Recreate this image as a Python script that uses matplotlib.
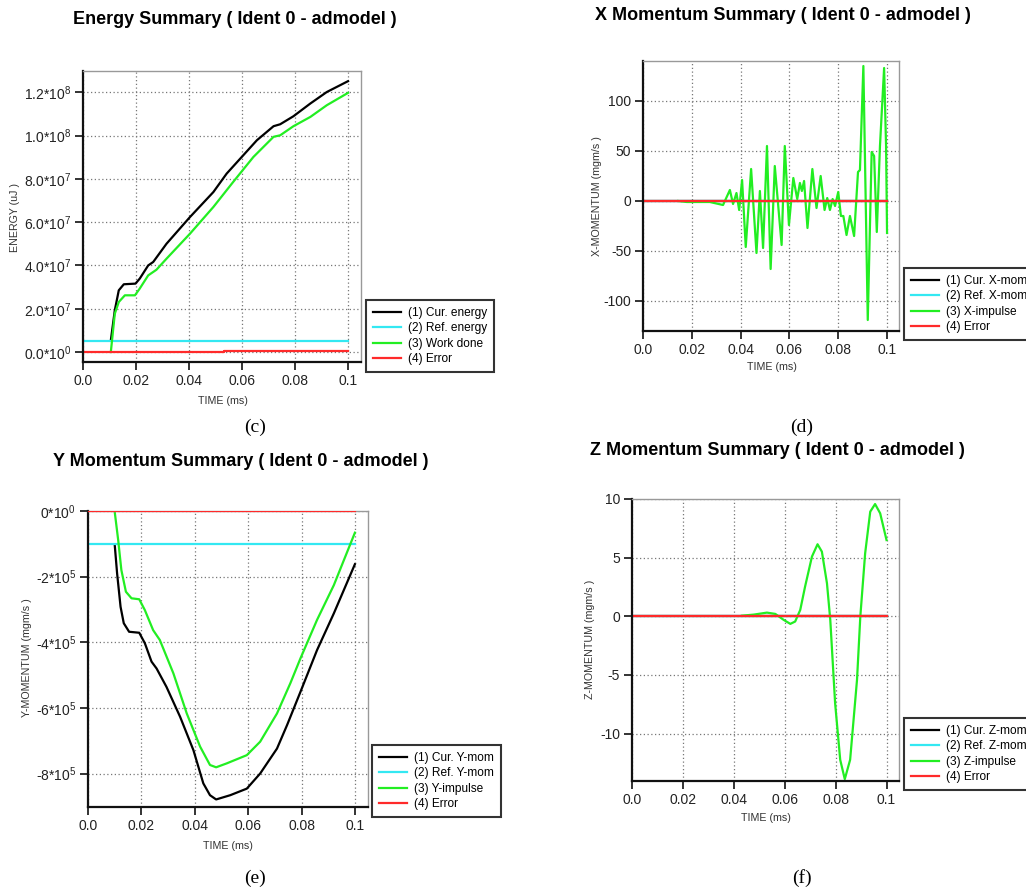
import numpy as np
import matplotlib
matplotlib.use('Agg')
import matplotlib.pyplot as plt

plt.rcParams['font.family'] = ['Liberation Sans', 'DejaVu Sans']
plt.rcParams['mathtext.fontset'] = 'custom'
plt.rcParams['mathtext.rm'] = 'Liberation Sans'
plt.rcParams['mathtext.it'] = 'Liberation Sans:italic'
plt.rcParams['mathtext.bf'] = 'Liberation Sans:bold'

# time axis ticks (shared)
time_ticks = [0.0, 0.02, 0.04, 0.06, 0.08, 0.1]
time_ticklabels = ['0.0', '0.02', '0.04', '0.06', '0.08', '0.1']

# (c) energy summary
energy_t_cur = [0.0105, 0.012, 0.0135, 0.0154, 0.0198, 0.0214, 0.0246, 0.0265, 0.0315, 0.0404,
                0.0492, 0.0542, 0.0599, 0.0656, 0.0719, 0.0744, 0.0794, 0.0858, 0.092, 0.1]
energy_cur = [0.054e8, 0.193e8, 0.285e8, 0.313e8, 0.316e8, 0.339e8, 0.40e8, 0.416e8, 0.50e8, 0.624e8,
              0.739e8, 0.824e8, 0.901e8, 0.978e8, 1.043e8, 1.052e8, 1.089e8, 1.148e8, 1.201e8, 1.251e8]
energy_t_work = [0.0105, 0.012, 0.0135, 0.0158, 0.0196, 0.0214, 0.0246, 0.0277, 0.0315, 0.0404,
                 0.0492, 0.0567, 0.0643, 0.0719, 0.0744, 0.0794, 0.0858, 0.092, 0.1]
energy_work = [0.0, 0.177e8, 0.231e8, 0.262e8, 0.262e8, 0.293e8, 0.354e8, 0.380e8, 0.431e8, 0.547e8,
               0.670e8, 0.786e8, 0.901e8, 0.994e8, 1.001e8, 1.043e8, 1.086e8, 1.140e8, 1.197e8]
energy_t_ref = [0.0, 0.1]
energy_ref = [4.9e6, 4.9e6]
energy_t_err = [0.0, 0.0532, 0.0532, 0.1]
energy_err = [0.0, 0.0, 3e5, 3e5]
energy_yticks = [0.0, 2e7, 4e7, 6e7, 8e7, 1.0e8, 1.2e8]
energy_yticklabels = ['0.0*10$^{0}$', '2.0*10$^{7}$', '4.0*10$^{7}$', '6.0*10$^{7}$',
                      '8.0*10$^{7}$', '1.0*10$^{8}$', '1.2*10$^{8}$']

# (d) x momentum summary
xmom_t = [0.0144, 0.018, 0.0274, 0.0328, 0.0356, 0.0369, 0.0383, 0.0394, 0.0406, 0.0421,
          0.0443, 0.0465, 0.0479, 0.0492, 0.0508, 0.0523, 0.054, 0.0568, 0.0581, 0.0598,
          0.0616, 0.0632, 0.0643, 0.0651, 0.066, 0.0674, 0.0694, 0.0711, 0.0728, 0.0744,
          0.0755, 0.0766, 0.0777, 0.0787, 0.08, 0.0811, 0.0821, 0.0834, 0.0848, 0.0865,
          0.0881, 0.0889, 0.0903, 0.0921, 0.0937, 0.0947, 0.0958, 0.0971, 0.0988, 0.0996, 0.1]
xmom_imp = [0, -1, -1, -4, 11, -3, 8, -9, 21, -46,
            32, -52, 10, -47, 55, -68, 35, -44, 55, -24,
            23, 2, 18, 10, 20, -27, 32, -7, 25, -9,
            3, -9, 2, -5, 9, -15, -15, -34, -15, -35,
            29, 31, 135, -119, 49, 45, -31, 55, 133, 55, -32]
xmom_t_flat = [0.0, 0.1]
xmom_zero = [0.0, 0.0]
xmom_yticks = [-100, -50, 0, 50, 100]
xmom_yticklabels = ['-100', '-50', '0', '50', '100']

# (e) y momentum summary
ymom_t_cur = [0.01, 0.0109, 0.0122, 0.0134, 0.0154, 0.0192, 0.0213, 0.0238, 0.0257, 0.0294,
              0.0345, 0.0395, 0.0432, 0.0457, 0.048, 0.0533, 0.0595, 0.0645, 0.0708, 0.0746,
              0.0796, 0.0858, 0.0921, 0.1]
ymom_cur = [-1.02e5, -1.90e5, -2.92e5, -3.42e5, -3.68e5, -3.71e5, -4.03e5, -4.59e5, -4.80e5, -5.36e5,
            -6.27e5, -7.29e5, -8.30e5, -8.66e5, -8.79e5, -8.66e5, -8.46e5, -8.0e5, -7.24e5, -6.52e5,
            -5.51e5, -4.24e5, -3.12e5, -1.62e5]
ymom_t_imp = [0.01, 0.0113, 0.0125, 0.0142, 0.0163, 0.0192, 0.0213, 0.0244, 0.0269, 0.032,
              0.037, 0.042, 0.0457, 0.048, 0.052, 0.0595, 0.0645, 0.0708, 0.0758, 0.0796,
              0.0858, 0.0921, 0.0959, 0.1]
ymom_imp = [-0.02e5, -0.88e5, -1.80e5, -2.46e5, -2.66e5, -2.69e5, -3.02e5, -3.63e5, -3.93e5, -4.95e5,
            -6.17e5, -7.18e5, -7.74e5, -7.81e5, -7.69e5, -7.44e5, -7.03e5, -6.17e5, -5.25e5, -4.49e5,
            -3.32e5, -2.26e5, -1.49e5, -0.66e5]
ymom_t_flat = [0.0, 0.1]
ymom_ref = [-1.0e5, -1.0e5]
ymom_err = [0.0, 0.0]
ymom_yticks = [0, -2e5, -4e5, -6e5, -8e5]
ymom_yticklabels = ['0*10$^{0}$', '-2*10$^{5}$', '-4*10$^{5}$', '-6*10$^{5}$', '-8*10$^{5}$']

# (f) z momentum summary
zmom_t = [0.0432, 0.0478, 0.053, 0.0563, 0.0596, 0.0622, 0.0641, 0.0661, 0.068, 0.0707,
          0.0729, 0.0746, 0.0766, 0.0779, 0.0798, 0.0818, 0.0836, 0.0857, 0.0884, 0.0897,
          0.0916, 0.0936, 0.0955, 0.0975, 0.1]
zmom_imp = [0.05, 0.14, 0.31, 0.2, -0.31, -0.65, -0.45, 0.54, 2.53, 5.09,
            6.14, 5.51, 2.81, -0.31, -7.41, -12.24, -13.89, -12.24, -5.43, -0.03,
            5.37, 8.92, 9.57, 8.78, 6.5]
zmom_t_flat = [0.0, 0.1]
zmom_zero = [0.0, 0.0]
zmom_yticks = [-10, -5, 0, 5, 10]
zmom_yticklabels = ['-10', '-5', '0', '5', '10']

BLACK = '#000000'
CYAN = '#33e8f2'
GREEN = '#22ee22'
RED = '#ff2a2a'
LW = 1.6

W, H = 1026.0, 890.0
fig = plt.figure(figsize=(10.26, 8.90), dpi=100)


def px_axes(left, top, right, bottom):
    return fig.add_axes([left / W, 1 - bottom / H, (right - left) / W, (bottom - top) / H])


def style_axes(ax, yticks, yticklabels, ylim):
    ax.set_xlim(0, 0.1049)
    ax.set_ylim(*ylim)
    ax.set_xticks(time_ticks)
    ax.set_xticklabels(time_ticklabels)
    ax.set_yticks(yticks)
    ax.set_yticklabels(yticklabels)
    ax.grid(True, linestyle=(0, (1, 2)), color='#777777', linewidth=0.9)
    ax.set_axisbelow(True)
    for s in ['left', 'bottom']:
        ax.spines[s].set_color('#111111')
        ax.spines[s].set_linewidth(1.6)
    for s in ['top', 'right']:
        ax.spines[s].set_color('#999999')
        ax.spines[s].set_linewidth(1.0)
    ax.tick_params(direction='out', length=6, width=1.2, labelsize=10, pad=2.5,
                   colors='#111111', labelcolor='#222222')


def add_legend(ax, labels, x, y):
    lg = ax.legend(ax.get_lines()[:4], labels, loc='lower left',
                   bbox_to_anchor=(x / W, 1 - y / H), bbox_transform=fig.transFigure,
                   borderaxespad=0, fontsize=8.6, frameon=True, fancybox=False,
                   handlelength=2.35, handletextpad=0.65, labelspacing=0.3, borderpad=0.55)
    lg.get_frame().set_edgecolor('#333333')
    lg.get_frame().set_linewidth(1.5)
    lg.get_frame().set_alpha(1)


def label_texts(title, tx, ty, ylabel, yx, yy, xx, xy, cap, cx, cy):
    fig.text(tx / W, 1 - ty / H, title, ha='center', va='center', fontsize=13, fontweight='bold')
    fig.text(yx / W, 1 - yy / H, ylabel, ha='center', va='center', rotation=90,
             fontsize=7.7, color='#333333')
    fig.text(xx / W, 1 - xy / H, 'TIME (ms)', ha='center', va='center', fontsize=7.7, color='#333333')
    fig.text(cx / W, 1 - cy / H, cap, ha='center', va='center', fontsize=14,
             family=['Liberation Serif', 'DejaVu Serif'])


# (c) Energy
ax = px_axes(83, 71, 361, 362)
ax.plot(energy_t_cur, energy_cur, color=BLACK, lw=LW)
ax.plot(energy_t_ref, energy_ref, color=CYAN, lw=LW)
ax.plot(energy_t_work, energy_work, color=GREEN, lw=LW)
ax.plot(energy_t_err, energy_err, color=RED, lw=LW)
style_axes(ax, energy_yticks, energy_yticklabels, (-4.6e6, 1.298e8))
add_legend(ax, ['(1) Cur. energy', '(2) Ref. energy', '(3) Work done', '(4) Error'], 366, 372)
label_texts('Energy Summary ( Ident 0 - admodel )', 235, 20, 'ENERGY (uJ )', 15, 217,
            223, 401, '(c)', 255, 427)

# (d) X momentum
ax = px_axes(643, 61, 899, 331)
ax.plot(xmom_t_flat, xmom_zero, color=BLACK, lw=LW)
ax.plot(xmom_t_flat, xmom_zero, color=CYAN, lw=LW)
ax.plot(xmom_t, xmom_imp, color=GREEN, lw=LW)
ax.plot(xmom_t_flat, xmom_zero, color=RED, lw=LW)
style_axes(ax, xmom_yticks, xmom_yticklabels, (-130, 140))
add_legend(ax, ['(1) Cur. X-mom', '(2) Ref. X-mom', '(3) X-impulse', '(4) Error'], 904, 340)
label_texts('X Momentum Summary ( Ident 0 - admodel )', 783, 15, 'X-MOMENTUM (mgm/s )', 597, 196,
            772, 367, '(d)', 802, 427)

# (e) Y momentum
ax = px_axes(88, 511, 368, 807)
ax.plot(ymom_t_cur, ymom_cur, color=BLACK, lw=LW)
ax.plot(ymom_t_flat, ymom_ref, color=CYAN, lw=LW)
ax.plot(ymom_t_imp, ymom_imp, color=GREEN, lw=LW)
ax.plot(ymom_t_flat, ymom_err, color=RED, lw=LW, zorder=3)
style_axes(ax, ymom_yticks, ymom_yticklabels, (-9.02e5, 0))
add_legend(ax, ['(1) Cur. Y-mom', '(2) Ref. Y-mom', '(3) Y-impulse', '(4) Error'], 372, 817)
label_texts('Y Momentum Summary ( Ident 0 - admodel )', 241, 461, 'Y-MOMENTUM (mgm/s )', 27, 658,
            228, 846, '(e)', 255, 878)

# (f) Z momentum
ax = px_axes(632, 499, 899, 781)
ax.plot(zmom_t_flat, zmom_zero, color=BLACK, lw=LW)
ax.plot(zmom_t_flat, zmom_zero, color=CYAN, lw=LW)
ax.plot(zmom_t, zmom_imp, color=GREEN, lw=LW)
ax.plot(zmom_t_flat, zmom_zero, color=RED, lw=LW)
style_axes(ax, zmom_yticks, zmom_yticklabels, (-14.05, 10))
add_legend(ax, ['(1) Cur. Z-mom', '(2) Ref. Z-mom', '(3) Z-impulse', '(4) Error'], 904, 790)
label_texts('Z Momentum Summary ( Ident 0 - admodel )', 777, 451, 'Z-MOMENTUM (mgm/s )', 590, 639,
            766, 818, '(f)', 802, 878)

fig.savefig('out.png', dpi=100)
